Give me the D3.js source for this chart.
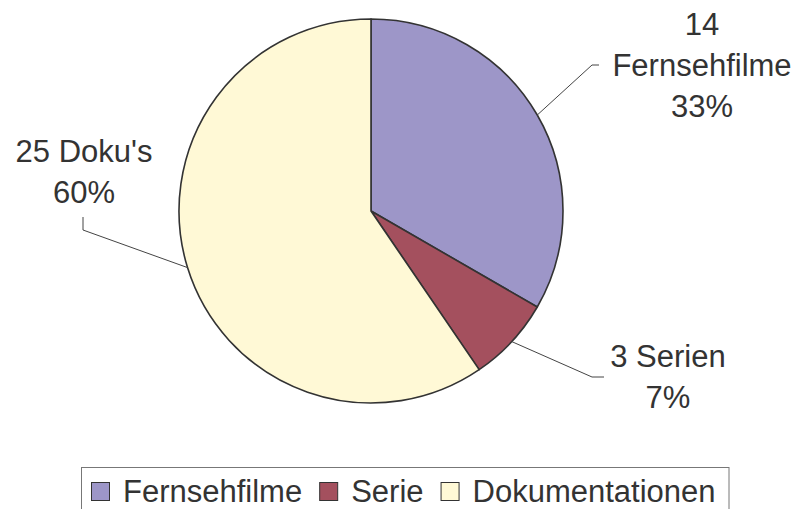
<!DOCTYPE html>
<html><head><meta charset="utf-8">
<script src="https://cdn.jsdelivr.net/npm/d3@7"></script>
<style>html,body{margin:0;padding:0;background:#fff;overflow:hidden}</style>
</head><body>
<svg id="c" width="794" height="509"></svg>
<script>
const categories = ["Fernsehfilme", "Serie", "Dokumentationen"];
const values = [14, 3, 25];
const labelLines = [["14", "Fernsehfilme", "33%"], ["3 Serien", "7%"], ["25 Doku's", "60%"]];
const colors = ["#9d96c8", "#a4505e", "#fff9d6"];

const svg = d3.select("#c");
const W = 794, H = 509;
const cx = 371, cy = 211, R = 192;
const font = "'Liberation Sans', Arial, sans-serif";
const fs = 31, textColor = "#333";

const data = categories.map((c, i) => ({cat: c, value: values[i], color: colors[i], lines: labelLines[i]}));
const pie = d3.pie().sort(null).value(d => d.value);
const arcs = pie(data);
const arc = d3.arc().innerRadius(0).outerRadius(R);

const g = svg.append("g").attr("transform", `translate(${cx},${cy})`);
g.selectAll("path").data(arcs).enter().append("path")
  .attr("d", arc).attr("fill", d => d.data.color)
  .attr("stroke", "#333").attr("stroke-width", 1.6).attr("stroke-linejoin", "round");

// label layout: elbow and text anchors relative to pie center
const labelLayout = [
  {elbow: [221, -146], end: [228, -146], text: [331, -176], mode: "h"},
  {elbow: [221, 166], end: [233, 166], text: [297, 156], mode: "h"},
  {elbow: [-288, 19], end: [-288, 6], text: [-287, -49], mode: "v"}
];
arcs.forEach((a, i) => {
  const mid = (a.startAngle + a.endAngle) / 2;
  const sx = Math.sin(mid) * R, sy = -Math.cos(mid) * R;
  const L = labelLayout[i];
  g.append("polyline")
    .attr("points", [[sx, sy], L.elbow, L.end].map(p => p.join(",")).join(" "))
    .attr("fill", "none").attr("stroke", "#444").attr("stroke-width", 1);
  const t = g.append("text").attr("text-anchor", "middle")
    .attr("font-family", font).attr("font-size", fs).attr("fill", textColor);
  a.data.lines.forEach((ln, j) => {
    t.append("tspan").attr("x", L.text[0]).attr("y", L.text[1] + j * 41).text(ln);
  });
});

// legend
const lg = svg.append("g");
lg.append("rect").attr("x", 81.5).attr("y", 467.5).attr("width", 647.5).attr("height", 60)
  .attr("fill", "#fff").attr("stroke", "#777").attr("stroke-width", 1);
let x = 91;
data.forEach(d => {
  lg.append("rect").attr("x", x + 0.5).attr("y", 482.5).attr("width", 18).attr("height", 18)
    .attr("fill", d.color).attr("stroke", "#333").attr("stroke-width", 1);
  const t = lg.append("text").attr("x", x + 32).attr("y", 502)
    .attr("font-family", font).attr("font-size", fs).attr("fill", textColor).text(d.cat);
  x += 32 + t.node().getComputedTextLength() + 17;
});
</script>
</body></html>
